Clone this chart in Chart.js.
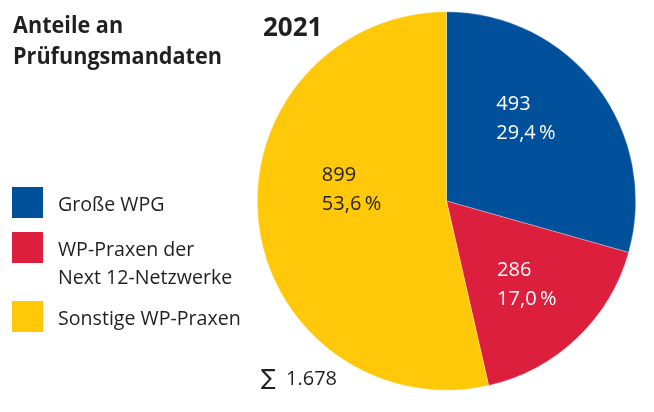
<!DOCTYPE html>
<html>
<head>
<meta charset="utf-8">
<script src="https://cdn.jsdelivr.net/npm/chart.js@4"></script>
<style>
  html, body { margin: 0; padding: 0; background: #fff; }
  #wrap { position: relative; width: 654px; height: 412px; }
</style>
</head>
<body>
<div id="wrap"><canvas id="pie" width="654" height="412"></canvas></div>
<script>
const categories = ["Große WPG", "WP-Praxen der\nNext 12-Netzwerke", "Sonstige WP-Praxen"];
const values = [493, 286, 899];
const shares = ["29,4\u2009%", "17,0\u2009%", "53,6\u2009%"];
const colors = ["#00509b", "#dc1f3c", "#ffc808"];
const labelColors = ["#ffffff", "#ffffff", "#231f20"];
const year = "2021";
const title = ["Anteile an", "Prüfungsmandaten"];

// where the value labels sit inside each slice: [fraction of the slice angle, fraction of radius]
const labelSpots = [[0.41, 0.614], [0.485, 0.608], [0.575, 0.505]];

const FONT = "'Open Sans', 'Noto Sans', sans-serif";
const TEXT = "#231f20";

// draw text squeezed horizontally (the original face is a bit narrower)
function squeezed(ctx, str, x, y, sx) {
  ctx.save();
  ctx.translate(x, y);
  ctx.scale(sx, 1);
  ctx.fillText(str, 0, 0);
  ctx.restore();
}

const textPlugin = {
  id: "texts",
  afterDraw(chart) {
    const ctx = chart.ctx;
    ctx.save();
    ctx.textAlign = "left";
    ctx.textBaseline = "alphabetic";

    // title
    ctx.fillStyle = TEXT;
    ctx.font = "bold 23px " + FONT;
    squeezed(ctx, title[0], 13, 33, 0.94);
    squeezed(ctx, title[1], 13, 64, 0.94);
    ctx.font = "bold 26px " + FONT;
    ctx.fillText(year, 263, 36);

    // legend
    const ds = chart.data.datasets[0];
    let y = 187;
    chart.data.labels.forEach((lab, i) => {
      const lines = lab.split("\n");
      ctx.fillStyle = ds.backgroundColor[i];
      ctx.fillRect(12, y, 31, 31);
      ctx.fillStyle = TEXT;
      ctx.font = "20px " + FONT;
      lines.forEach((ln, k) => squeezed(ctx, ln, 58, y + 23.5 + k * 28, 0.98));
      y += 45 + (lines.length - 1) * 24;
    });

    // value labels inside slices
    const meta = chart.getDatasetMeta(0);
    meta.data.forEach((arc, i) => {
      const [af, rf] = labelSpots[i];
      const a = arc.startAngle + af * (arc.endAngle - arc.startAngle);
      const cx = arc.x + rf * arc.outerRadius * Math.cos(a);
      const cy = arc.y + rf * arc.outerRadius * Math.sin(a);
      ctx.fillStyle = labelColors[i];
      ctx.font = "20px " + FONT;
      ctx.fillText(String(values[i]), cx - 30, cy - 7);
      ctx.fillText(shares[i], cx - 30, cy + 22);
    });

    // total
    const total = values.reduce((s, v) => s + v, 0);
    ctx.fillStyle = TEXT;
    ctx.font = "22px 'DejaVu Sans', sans-serif";
    ctx.fillText("\u2211", 261, 385);
    ctx.font = "20px " + FONT;
    ctx.fillText(total.toLocaleString("de-DE"), 286, 385);
    ctx.restore();
  }
};

new Chart(document.getElementById("pie"), {
  type: "pie",
  data: {
    labels: categories,
    datasets: [{
      data: values,
      backgroundColor: colors,
      borderColor: "rgba(255,255,255,0.6)",
      borderWidth: 0.5
    }]
  },
  options: {
    responsive: false,
    animation: false,
    layout: { padding: { top: 11, bottom: 21, left: 257, right: 18 } },
    plugins: {
      legend: { display: false },
      tooltip: { enabled: false }
    }
  },
  plugins: [textPlugin]
});
</script>
</body>
</html>
